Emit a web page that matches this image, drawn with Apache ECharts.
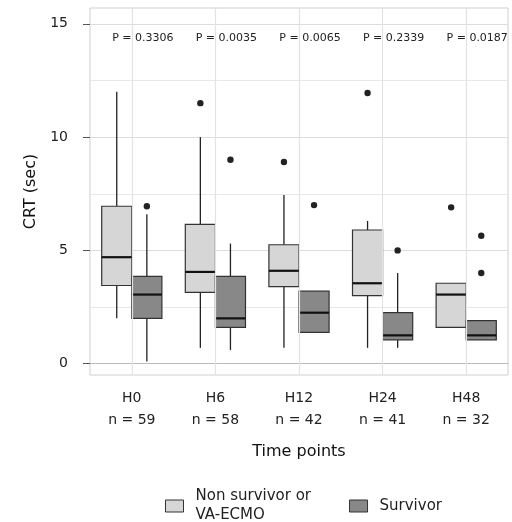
<!DOCTYPE html>
<html><head><meta charset="utf-8">
<script src="https://cdn.jsdelivr.net/npm/echarts@6/dist/echarts.min.js"></script>
<style>html,body{margin:0;padding:0;background:#fff}#c{width:512px;height:522px}</style>
</head><body><div id="c"></div>
<script>
const categories = ['H0', 'H6', 'H12', 'H24', 'H48'];
const nCounts = [59, 58, 42, 41, 32];
const pValues = ['P = 0.3306', 'P = 0.0035', 'P = 0.0065', 'P = 0.2339', 'P = 0.0187'];
// [low whisker, Q1, median, Q3, high whisker]
const nonSurvivor = [
  [2.0, 3.45, 4.7, 6.95, 12.0],
  [0.7, 3.15, 4.05, 6.15, 10.0],
  [0.7, 3.4, 4.1, 5.25, 7.45],
  [0.7, 3.0, 3.55, 5.9, 6.3],
  [1.6, 1.6, 3.05, 3.55, 3.55]
];
const survivor = [
  [0.1, 2.0, 3.05, 3.85, 6.6],
  [0.6, 1.6, 2.0, 3.85, 5.3],
  [1.38, 1.38, 2.25, 3.2, 3.2],
  [0.7, 1.05, 1.25, 2.25, 4.0],
  [1.05, 1.05, 1.25, 1.9, 1.9]
];
const nonSurvivorOutliers = [[1, 11.5], [2, 8.9], [3, 11.95], [4, 6.9]];
const survivorOutliers = [[0, 6.95], [1, 9.0], [2, 7.0], [3, 5.0], [4, 5.65], [4, 4.0]];
const yMajorTicks = [0, 5, 10, 15];
const yMinorTicks = [2.5, 7.5, 12.5];
const pLabelValue = 14.35;

const lightFill = '#d6d6d6';
const darkFill = '#888888';

function boxRender(side) {
  return function (params, api) {
    const i = api.value(0);
    const low = api.coord([i, api.value(1)]);
    const q1 = api.coord([i, api.value(2)]);
    const med = api.coord([i, api.value(3)]);
    const q3 = api.coord([i, api.value(4)]);
    const high = api.coord([i, api.value(5)]);
    const band = api.size([1, 0])[0];
    const w = band * 0.36;
    const cx = low[0] + side * band * 0.18;
    const fill = api.visual('color');
    return {
      type: 'group',
      children: [
        { type: 'line', shape: { x1: cx, y1: high[1], x2: cx, y2: q3[1] }, style: { stroke: '#222', lineWidth: 1.3 } },
        { type: 'line', shape: { x1: cx, y1: q1[1], x2: cx, y2: low[1] }, style: { stroke: '#222', lineWidth: 1.3 } },
        { type: 'rect', shape: { x: cx - w / 2, y: q3[1], width: w, height: q1[1] - q3[1] }, style: { fill: fill, stroke: '#333', lineWidth: 1.2 } },
        { type: 'line', shape: { x1: cx - w / 2, y1: med[1], x2: cx + w / 2, y2: med[1] }, style: { stroke: '#111', lineWidth: 2.2 } }
      ]
    };
  };
}
function outlierRender(side) {
  return function (params, api) {
    const p = api.coord([api.value(0), api.value(1)]);
    const band = api.size([1, 0])[0];
    return { type: 'circle', shape: { cx: p[0] + side * band * 0.18, cy: p[1], r: 3.2 }, style: { fill: '#222' } };
  };
}

const chart = echarts.init(document.getElementById('c'));
chart.setOption({
  animation: false,
  backgroundColor: '#fff',
  grid: { left: 90, right: 4, top: 8, bottom: 147, show: true, borderColor: '#cfcfcf', borderWidth: 1 },
  legend: {
    top: 482, left: 160, itemWidth: 18, itemHeight: 12, itemGap: 38,
    textStyle: { fontFamily: 'DejaVu Sans', fontSize: 15, color: '#222', lineHeight: 19, padding: [0, 0, 0, 7] },
    data: [
      { name: 'Non survivor or\nVA-ECMO', icon: 'rect', itemStyle: { color: lightFill, borderColor: '#333', borderWidth: 1 } },
      { name: 'Survivor', icon: 'rect', itemStyle: { color: darkFill, borderColor: '#333', borderWidth: 1 } }
    ]
  },
  xAxis: {
    type: 'category', data: categories,
    name: 'Time points', nameLocation: 'middle', nameGap: 69,
    nameTextStyle: { fontFamily: 'DejaVu Sans', fontSize: 16, color: '#111' },
    axisLine: { lineStyle: { color: '#bbb' } },
    axisTick: { alignWithLabel: true, length: 4, lineStyle: { color: '#333' } },
    axisLabel: {
      fontFamily: 'DejaVu Sans', fontSize: 14, color: '#222', lineHeight: 22, margin: 12,
      formatter: (v, idx) => v + '\nn = ' + nCounts[idx]
    },
    splitLine: { show: false }
  },
  yAxis: [{
    type: 'value', min: -0.5, max: 15.7,
    name: 'CRT (sec)', nameLocation: 'middle', nameGap: 51,
    nameTextStyle: { fontFamily: 'DejaVu Sans', fontSize: 16, color: '#111' },
    axisLine: { show: false },
    axisTick: { show: true, length: 7, customValues: yMajorTicks, lineStyle: { color: '#555' } },
    axisLabel: { customValues: yMajorTicks, fontFamily: 'DejaVu Sans', fontSize: 14, color: '#222', margin: 22 },
    splitLine: { show: true, lineStyle: { color: '#dddddd', width: 1.2 } }
  }, {
    type: 'value', min: -0.5, max: 15.7, position: 'left',
    axisLine: { show: false }, axisLabel: { show: false },
    axisTick: { show: false, customValues: yMinorTicks },
    splitLine: { show: true, lineStyle: { color: '#e8e8e8', width: 1 } }
  }],
  series: [
    {
      name: 'Non survivor or\nVA-ECMO', type: 'custom', renderItem: boxRender(-1), z: 3,
      itemStyle: { color: lightFill },
      data: nonSurvivor.map((d, i) => [i].concat(d)),
      markLine: {
        silent: true, symbol: 'none', label: { show: false },
        lineStyle: { color: '#e3e3e3', width: 1.2, type: 'solid' },
        data: categories.map(c => ({ xAxis: c }))
      }
    },
    {
      name: 'Survivor', type: 'custom', renderItem: boxRender(1), z: 3,
      itemStyle: { color: darkFill },
      data: survivor.map((d, i) => [i].concat(d))
    },
    { type: 'custom', renderItem: outlierRender(-1), z: 4, data: nonSurvivorOutliers },
    { type: 'custom', renderItem: outlierRender(1), z: 4, data: survivorOutliers },
    {
      type: 'custom', z: 4,
      renderItem: function (params, api) {
        const p = api.coord([api.value(0), pLabelValue]);
        return { type: 'text', x: p[0] + 11, y: p[1], style: { text: pValues[params.dataIndex], fontFamily: 'DejaVu Sans', fontSize: 11, fill: '#222', align: 'center', verticalAlign: 'middle' } };
      },
      data: categories.map((c, i) => [i])
    }
  ]
});
</script></body></html>
